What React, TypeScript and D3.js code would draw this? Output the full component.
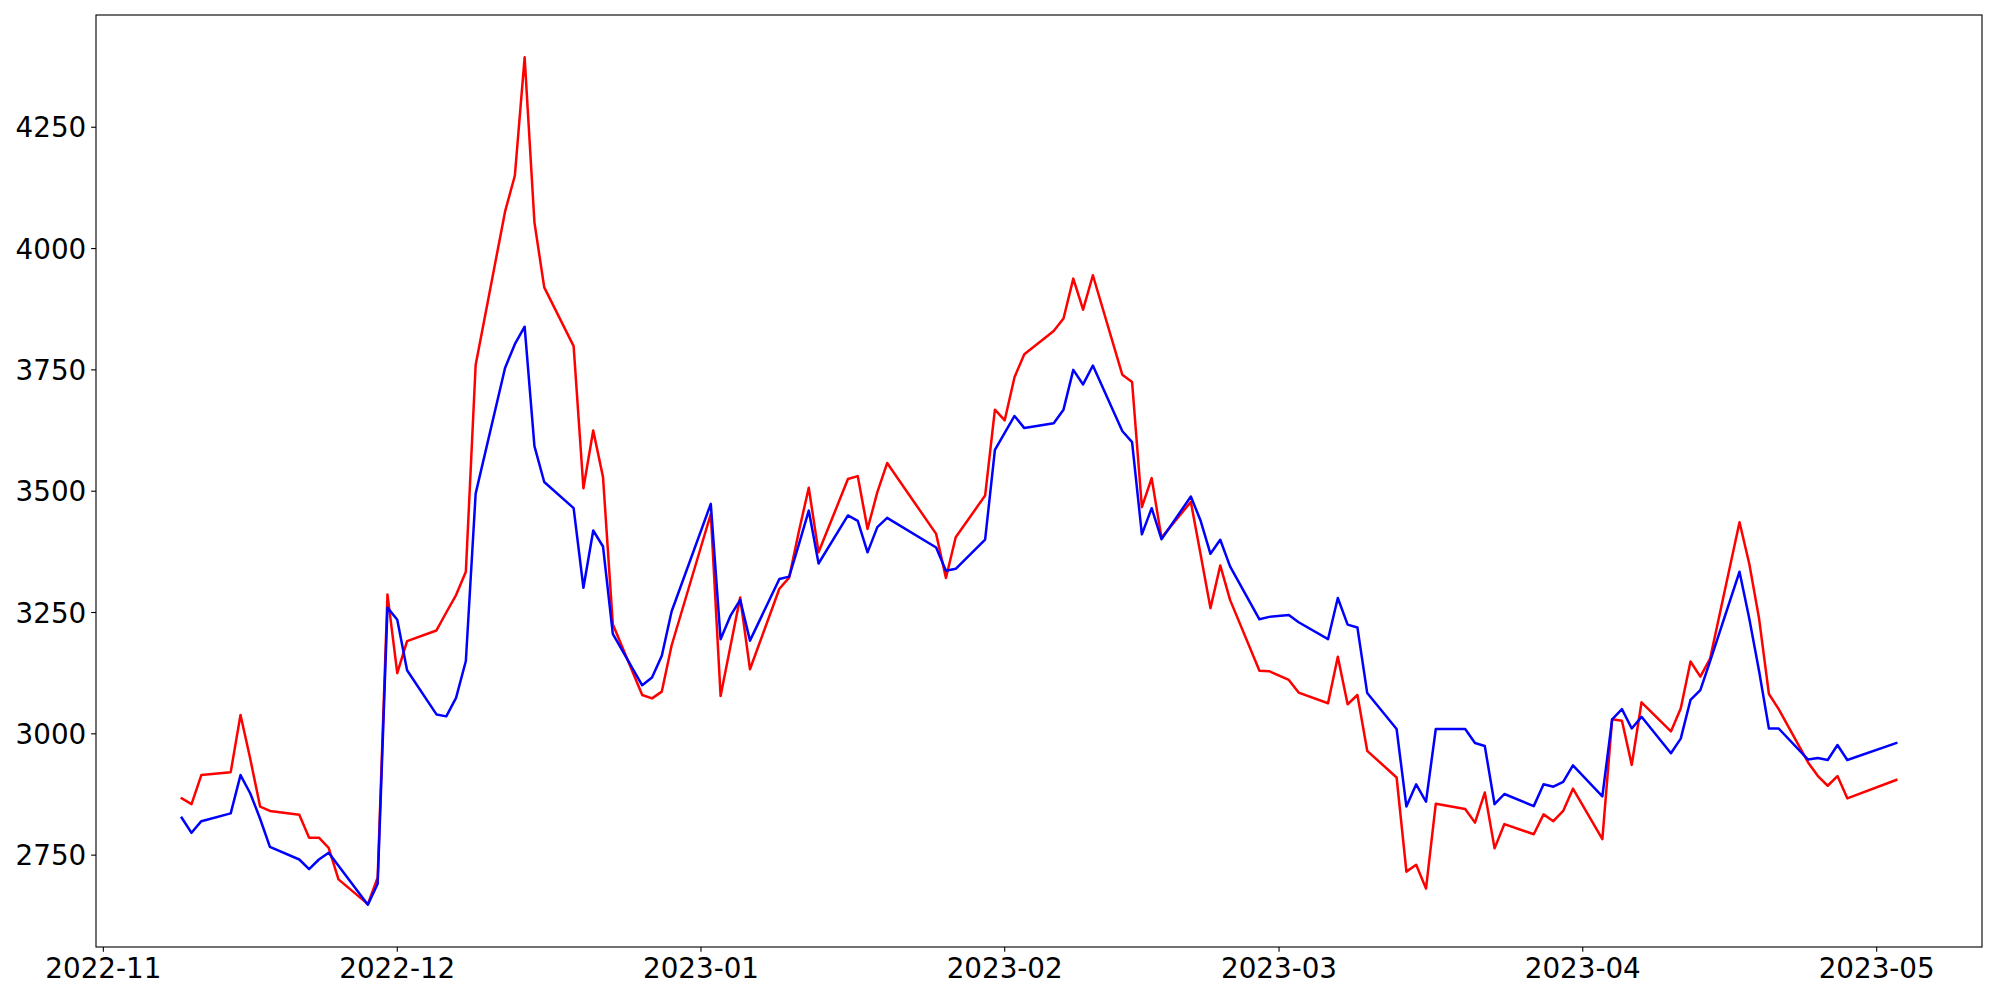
import React from 'react';
import * as d3 from 'd3';

const dates: string[] = [
  '2022-11-09','2022-11-10','2022-11-11','2022-11-14','2022-11-15','2022-11-16','2022-11-17','2022-11-18',
  '2022-11-21','2022-11-22','2022-11-23','2022-11-24','2022-11-25','2022-11-28','2022-11-29','2022-11-30',
  '2022-12-01','2022-12-02','2022-12-05','2022-12-06','2022-12-07','2022-12-08','2022-12-09',
  '2022-12-12','2022-12-13','2022-12-14','2022-12-15','2022-12-16','2022-12-19','2022-12-20','2022-12-21',
  '2022-12-22','2022-12-23','2022-12-26','2022-12-27','2022-12-28','2022-12-29',
  '2023-01-02','2023-01-03','2023-01-04','2023-01-05','2023-01-06','2023-01-09','2023-01-10','2023-01-11',
  '2023-01-12','2023-01-13','2023-01-16','2023-01-17','2023-01-18','2023-01-19','2023-01-20',
  '2023-01-25','2023-01-26','2023-01-27','2023-01-30','2023-01-31',
  '2023-02-01','2023-02-02','2023-02-03','2023-02-06','2023-02-07','2023-02-08','2023-02-09','2023-02-10',
  '2023-02-13','2023-02-14','2023-02-15','2023-02-16','2023-02-17','2023-02-20','2023-02-21','2023-02-22',
  '2023-02-23','2023-02-24','2023-02-27','2023-02-28',
  '2023-03-02','2023-03-03','2023-03-06','2023-03-07','2023-03-08','2023-03-09','2023-03-10',
  '2023-03-13','2023-03-14','2023-03-15','2023-03-16','2023-03-17','2023-03-20','2023-03-21','2023-03-22',
  '2023-03-23','2023-03-24','2023-03-27','2023-03-28','2023-03-29','2023-03-30','2023-03-31',
  '2023-04-03','2023-04-04','2023-04-05','2023-04-06','2023-04-07','2023-04-10','2023-04-11','2023-04-12',
  '2023-04-13','2023-04-14','2023-04-17','2023-04-18','2023-04-19','2023-04-20','2023-04-21',
  '2023-04-24','2023-04-25','2023-04-26','2023-04-27','2023-04-28','2023-05-03',
];

const redValues: number[] = [
  2867, 2855, 2915, 2921, 3039, 2948, 2850, 2841,
  2833, 2786, 2786, 2765, 2700, 2649, 2704, 3287,
  3125, 3191, 3213, 3250, 3286, 3334, 3760,
  4076, 4150, 4394, 4054, 3920, 3799, 3506, 3625,
  3529, 3226, 3080, 3073, 3087, 3182,
  3453, 3078, 3180, 3281, 3133, 3299, 3322, 3418,
  3507, 3374, 3525, 3531, 3422, 3498, 3558,
  3412, 3321, 3405, 3491, 3668,
  3646, 3735, 3782, 3830, 3856, 3938, 3874, 3945,
  3740, 3725, 3467, 3527, 3404, 3478, 3369, 3259,
  3347, 3276, 3130, 3129,
  3111, 3085, 3063, 3159, 3061, 3080, 2965,
  2910, 2716, 2730, 2681, 2856, 2845, 2817, 2879,
  2764, 2814, 2793, 2834, 2820, 2841, 2887,
  2783, 3030, 3027, 2936, 3065, 3005, 3052, 3149,
  3118, 3155, 3436, 3350, 3237, 3082, 3051,
  2941, 2913, 2893, 2913, 2867, 2905,
];

const blueValues: number[] = [
  2827, 2796, 2820, 2836, 2915, 2877, 2825, 2767,
  2741, 2721, 2741, 2755, 2728, 2648, 2691, 3260,
  3235, 3131, 3040, 3036, 3074, 3150, 3495,
  3754, 3803, 3839, 3593, 3519, 3465, 3301, 3419,
  3386, 3206, 3100, 3116, 3161, 3252,
  3474, 3195, 3243, 3276, 3192, 3319, 3324, 3391,
  3460, 3351, 3450, 3439, 3374, 3426, 3445,
  3384, 3336, 3340, 3400, 3585,
  3620, 3655, 3630, 3640, 3668, 3750, 3720, 3759,
  3624, 3601, 3411, 3465, 3401, 3489, 3439, 3371,
  3400, 3345, 3236, 3241,
  3245, 3230, 3195, 3280, 3225, 3219, 3084,
  3010, 2850, 2896, 2860, 3010, 3010, 2981, 2975,
  2855, 2876, 2851, 2896, 2891, 2901, 2935,
  2871, 3030, 3051, 3011, 3035, 2960, 2990, 3070,
  3090, 3150, 3334, 3237, 3129, 3011, 3011,
  2947, 2950, 2946, 2977, 2946, 2981,
];

const yTickValues: number[] = [2750, 3000, 3250, 3500, 3750, 4000, 4250];
const xTickLabels: string[] = ['2022-11', '2022-12', '2023-01', '2023-02', '2023-03', '2023-04', '2023-05'];

const seriesColors: string[] = ['#ff0000', '#0000ff'];

export default function App() {
  const W = 2000;
  const H = 1000;
  const m = { left: 96, right: 18, top: 15, bottom: 53 };
  const fontSize = 27.78;
  const font = '"DejaVu Sans", sans-serif';

  const parse = d3.utcParse('%Y-%m-%d');
  const ds = dates.map((d) => parse(d) as Date);
  const t0 = +ds[0];
  const t1 = +ds[ds.length - 1];
  const span = t1 - t0;
  const x = d3
    .scaleUtc()
    .domain([new Date(t0 - 0.05 * span), new Date(t1 + 0.05 * span)])
    .range([m.left, W - m.right]);

  const all = redValues.concat(blueValues);
  const vmin = d3.min(all) as number;
  const vmax = d3.max(all) as number;
  const vr = vmax - vmin;
  const y = d3
    .scaleLinear()
    .domain([vmin - 0.05 * vr, vmax + 0.05 * vr])
    .range([H - m.bottom, m.top]);

  const mkLine = (vals: number[]) =>
    d3
      .line<number>()
      .x((_, i) => x(ds[i]))
      .y((v) => y(v))(vals) as string;

  const xTicks = xTickLabels.map((l) => ({ label: l, date: d3.utcParse('%Y-%m')(l) as Date }));
  const tickLen = 4.86;
  const pad = 4.86;
  const axisW = 1.11;
  const bottomY = H - m.bottom;

  return (
    <svg
      width={W}
      height={H}
      style={{ position: 'absolute', left: 0, top: 0, background: '#fff' }}
      xmlns="http://www.w3.org/2000/svg"
    >
      <rect x={0} y={0} width={W} height={H} fill="#fff" />
      <g fill="none" strokeWidth={2.5} strokeLinejoin="round" strokeLinecap="square">
        <path d={mkLine(redValues)} stroke={seriesColors[0]} />
        <path d={mkLine(blueValues)} stroke={seriesColors[1]} />
      </g>
      <rect
        x={m.left}
        y={m.top}
        width={W - m.left - m.right}
        height={H - m.top - m.bottom}
        fill="none"
        stroke="#000"
        strokeWidth={axisW}
      />
      <g fontFamily={font} fontSize={fontSize} fill="#000">
        {yTickValues.map((v) => (
          <g key={v}>
            <line x1={m.left - tickLen} x2={m.left} y1={y(v)} y2={y(v)} stroke="#000" strokeWidth={axisW} />
            <text x={m.left - tickLen - pad} y={y(v) + 0.3645 * fontSize} textAnchor="end">
              {v}
            </text>
          </g>
        ))}
        {xTicks.map((t) => (
          <g key={t.label}>
            <line x1={x(t.date)} x2={x(t.date)} y1={bottomY} y2={bottomY + tickLen} stroke="#000" strokeWidth={axisW} />
            <text x={x(t.date)} y={bottomY + tickLen + pad + 0.76 * fontSize} textAnchor="middle">
              {t.label}
            </text>
          </g>
        ))}
      </g>
    </svg>
  );
}
